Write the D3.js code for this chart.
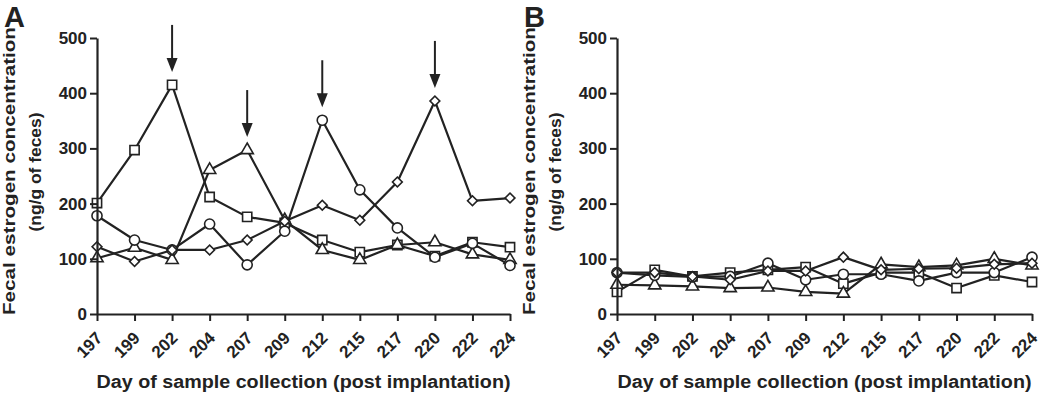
<!DOCTYPE html>
<html><head><meta charset="utf-8">
<script src="https://cdn.jsdelivr.net/npm/d3@7"></script>
<style>body{margin:0;background:#fff}svg{display:block}text{font-family:"Liberation Sans",Arial,sans-serif;font-weight:bold;fill:#222}</style>
</head><body>
<svg id="c" width="1043" height="400"></svg>
<script>
const days = ["197","199","202","204","207","209","212","215","217","220","222","224"];
const yTicks = [0,100,200,300,400,500];
// Panel A
const aSquare   = [201, 297, 415, 212, 176, 165, 134, 112, 125, 105, 130, 121];
const aTriangle = [101, 120,  98, 261, 297, 170, 116,  98, 125, 130, 108,  98];
const aCircle   = [178, 134, 116, 163,  89, 150, 351, 225, 156, 103, 128,  88];
const aDiamond  = [122,  95, 116, 116, 134, 168, 197, 170, 239, 386, 205, 210];
const arrowDays = ["202","207","212","220"];
// Panel B
const bSquare   = [ 40,  80,  68,  75,  80,  85,  55,  75,  75,  47,  70,  58];
const bTriangle = [ 53,  52,  50,  47,  48,  40,  37,  90,  85,  88, 100,  88];
const bCircle   = [ 75,  70,  67,  68,  92,  62,  72,  72,  60,  75,  75, 103];
const bDiamond  = [ 75,  75,  68,  62,  78,  78, 103,  80,  82,  83,  90,  92];

const svg = d3.select("#c");
const ink = "#222";

function panel(opts){
  const g = svg.append("g");
  const x = d3.scalePoint().domain(days).range([opts.x0, opts.x1]).padding(0);
  const y = d3.scaleLinear().domain([0,500]).range([314,38]);

  // series
  opts.series.forEach(s=>{
    const pts = days.map((d,i)=>[x(d), y(s.values[i])]);
    g.append("path").attr("d", d3.line()(pts)).attr("fill","none")
      .attr("stroke",ink).attr("stroke-width",2.2).attr("stroke-linejoin","round");
  });
  opts.series.forEach(s=>{
    const sym = d3.symbol().type(s.type).size(s.size);
    g.selectAll(null).data(days).enter().append("path")
      .attr("d", sym)
      .attr("transform",(d,i)=>`translate(${x(d)},${y(s.values[i])})${s.rot?` rotate(${s.rot})`:""}`)
      .attr("fill","#fff").attr("stroke",ink).attr("stroke-width",1.6);
  });

  // axes
  const ya = g.append("g").attr("transform",`translate(${opts.x0},0)`)
    .call(d3.axisLeft(y).tickValues(yTicks).tickSize(7).tickPadding(3).tickSizeOuter(0));
  ya.select(".domain").attr("stroke",ink).attr("stroke-width",2.2);
  ya.selectAll(".tick line").attr("stroke",ink).attr("stroke-width",2);
  ya.selectAll(".tick text").attr("font-size",17).attr("fill",ink)
    .style("font-family","Liberation Sans, Arial, sans-serif").style("font-weight","bold");

  const xa = g.append("g").attr("transform",`translate(0,314)`)
    .call(d3.axisBottom(x).tickSize(7).tickSizeOuter(0));
  xa.select(".domain").attr("stroke",ink).attr("stroke-width",2.2);
  xa.selectAll(".tick line").attr("stroke",ink).attr("stroke-width",2);
  xa.selectAll(".tick text").attr("font-size",17).attr("fill",ink)
    .style("font-family","Liberation Sans, Arial, sans-serif").style("font-weight","bold")
    .attr("text-anchor","end").attr("y",0).attr("dy",0)
    .attr("transform","translate(6,25) rotate(-45)");

  // titles
  g.append("text").attr("x",(opts.x0+opts.x1)/2).attr("y",388).attr("text-anchor","middle")
    .attr("font-size",18).attr("textLength",414).attr("lengthAdjust","spacingAndGlyphs")
    .text("Day of sample collection (post implantation)");
  g.append("text").attr("transform",`translate(${opts.tx+5},171) rotate(-90)`).attr("text-anchor","middle")
    .attr("font-size",17).attr("textLength",288).attr("lengthAdjust","spacingAndGlyphs")
    .text("Fecal estrogen concentration");
  g.append("text").attr("transform",`translate(${opts.tx+31},172) rotate(-90)`).attr("text-anchor","middle")
    .attr("font-size",17).attr("textLength",119).attr("lengthAdjust","spacingAndGlyphs")
    .text("(ng/g of feces)");
  g.append("text").attr("x",opts.tx-6).attr("y",27).attr("font-size",29).text(opts.letter);

  // arrows
  if (opts.arrows){
    opts.arrows.forEach(d=>{
      const i = days.indexOf(d);
      const m = d3.max(opts.series, s=>s.values[i]);
      const tip = y(m) - 13, top = tip - 47;
      const cx = x(d);
      g.append("line").attr("x1",cx).attr("x2",cx).attr("y1",top).attr("y2",tip-10)
        .attr("stroke",ink).attr("stroke-width",2);
      g.append("path").attr("d",`M${cx-5.5},${tip-14}L${cx+5.5},${tip-14}L${cx},${tip}Z`).attr("fill",ink);
    });
  }
}

const series = (sq,tr,ci,di)=>[
  {values:sq, type:d3.symbolSquare, size:85},
  {values:tr, type:d3.symbolTriangle, size:65},
  {values:ci, type:d3.symbolCircle, size:80},
  {values:di, type:d3.symbolSquare, size:48, rot:45}
];

panel({x0:97, x1:510, tx:10, letter:"A", series:series(aSquare,aTriangle,aCircle,aDiamond), arrows:arrowDays});
panel({x0:617, x1:1032, tx:530, letter:"B", series:series(bSquare,bTriangle,bCircle,bDiamond)});
</script>
</body></html>
